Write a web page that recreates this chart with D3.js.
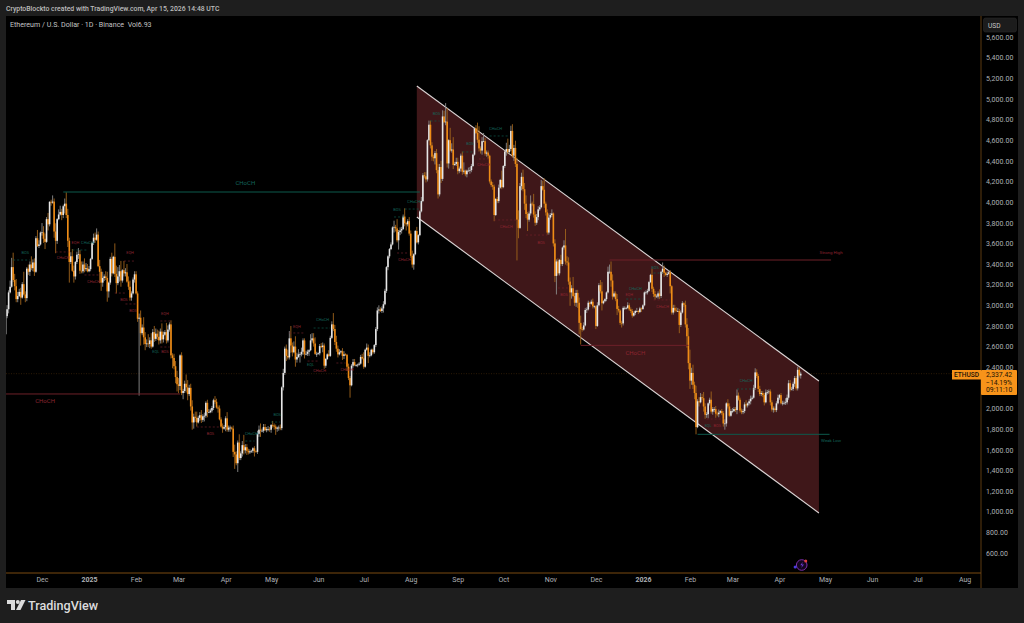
<!DOCTYPE html>
<html><head><meta charset="utf-8">
<script src="https://cdn.jsdelivr.net/npm/d3@7/dist/d3.min.js"></script>
<style>html,body{margin:0;padding:0;background:#1e1e1e;overflow:hidden}svg{display:block}text{font-family:Roboto,"Liberation Sans",sans-serif}</style>
</head><body><svg id="c" width="1024" height="623"></svg>
<script>
// ETH/USD daily, first candle 2024-11-07; one row per calendar month
const firstDay = "2024-11-07";
const firstOpen = 2720;
const closes = [
2895,2962,3125,3180,3370,3245,3185,3060,3090,3130,3075,3205,3105,3070,3355,3325,3395,3360,3415,3325,3650,3575,3590,3705,
3707,3645,3615,3835,3785,4003,3995,4005,3715,3625,3835,3880,3905,3875,3960,3985,3875,3625,3420,3475,3335,3280,3420,3490,3495,3335,3330,3395,3350,3360,3330,
3350,3450,3605,3655,3635,3685,3380,3325,3220,3265,3280,3265,3135,3220,3450,3310,3470,3305,3215,3280,3330,3240,3340,3310,3320,3230,3180,3075,3115,3250,3300,
3115,2870,2880,2730,2785,2690,2625,2630,2625,2660,2600,2740,2675,2725,2695,2660,2745,2670,2715,2740,2660,2765,2815,2515,2490,2410,2305,2235,
2218,2515,2150,2170,2240,2205,2140,2200,2020,1865,1920,1910,1865,1910,1935,1890,1925,1930,2055,1965,1965,1980,2005,2080,2065,2010,2000,1895,1825,1805,1820,
1905,1795,1815,1815,1805,1580,1555,1470,1670,1520,1565,1645,1595,1625,1590,1575,1585,1590,1615,1585,1580,1755,1795,1785,1785,1820,1790,1800,1800,1795,
1840,1835,1825,1805,1815,1815,1810,2205,2345,2580,2510,2495,2680,2610,2545,2600,2475,2500,2525,2525,2550,2660,2525,2530,2550,2565,2660,2680,2630,2530,2530,
2535,2605,2595,2610,2415,2480,2525,2510,2685,2815,2770,2645,2580,2525,2545,2555,2510,2525,2520,2405,2295,2225,2415,2450,2420,2420,2425,2435,2500,2485,
2405,2570,2590,2510,2515,2570,2545,2615,2770,2950,2960,2945,2970,3010,3140,3370,3475,3545,3590,3755,3760,3745,3630,3710,3725,3740,3860,3795,3785,3815,3695,
3480,3395,3495,3720,3610,3680,3910,4010,4260,4250,4220,4600,4750,4550,4440,4425,4475,4310,4075,4340,4225,4830,4775,4780,4375,4600,4500,4510,4360,4370,4390,
4300,4325,4450,4295,4305,4270,4305,4305,4310,4350,4460,4715,4670,4605,4520,4500,4590,4590,4470,4480,4450,4200,4165,4150,3875,4030,4010,4140,4215,4145,
4350,4490,4515,4485,4515,4690,4450,4525,4370,3830,3750,4155,4245,4125,3985,3885,3830,3890,3985,3980,3880,3800,3855,3930,3950,4155,4120,3985,3900,3705,3850,
3875,3890,3600,3285,3425,3310,3440,3400,3560,3580,3425,3415,3230,3125,3165,3090,3025,3120,3025,2830,2770,2765,2805,2955,2960,3025,3015,3035,2990,2990,
2800,3000,3195,3135,3020,3040,3060,3125,3325,3325,3240,3085,3115,3060,2965,2950,2830,2825,2975,2975,2975,3000,2960,2945,2900,2925,2945,2945,2935,2970,2965,
3000,3125,3125,3140,3225,3295,3160,3110,3085,3085,3115,3090,3325,3355,3315,3295,3305,3320,3185,2930,2975,2950,2945,2945,2810,2930,3020,3005,2815,2700,2440,
2270,2345,2230,2150,1820,2070,2060,2110,2100,2020,1940,1945,2050,2085,1970,1995,1995,1950,1945,1960,1975,1955,1855,1855,2050,2020,1930,1975,
1975,1995,1985,2125,2085,1980,1965,1975,2040,2030,2050,2070,2095,2105,2200,2350,2315,2190,2140,2150,2130,2060,2155,2160,2165,2060,1990,2000,1985,2050,2105,
2130,2050,2055,2055,2060,2105,2245,2185,2190,2240,2295,2195,2375,2320,2337.42
];
const wickUp = [
30,40,20,60,90,140,60,70,40,30,40,20,120,30,15,40,30,80,30,40,20,80,40,10,
90,60,50,20,60,5,20,60,30,80,10,50,60,30,15,50,110,60,30,40,70,50,10,30,60,40,90,30,60,50,40,
30,10,10,40,50,60,30,60,30,60,20,50,60,10,20,60,10,130,80,90,60,100,10,90,40,80,50,60,20,20,30,
30,20,40,70,30,100,50,40,90,30,70,30,60,50,40,60,30,80,30,20,90,40,20,40,20,40,50,60,
60,10,30,20,30,90,70,30,40,60,30,50,60,20,30,50,20,30,15,30,30,20,20,15,40,30,20,30,20,30,20,
20,60,20,20,10,30,70,30,20,80,20,40,100,30,30,20,20,10,10,20,10,30,40,60,20,30,30,20,30,20,
10,40,20,20,10,20,30,10,40,20,40,60,70,120,30,50,100,40,50,20,40,20,20,30,20,10,60,50,50,60,20,
10,20,30,30,20,10,10,40,20,30,110,40,60,30,30,10,30,30,10,10,30,20,15,30,30,10,10,15,20,30,
60,10,40,30,30,10,10,10,20,30,40,20,20,30,20,10,10,10,20,10,60,20,90,20,30,20,20,80,10,20,40,
30,50,10,10,40,10,10,40,20,30,40,10,40,40,30,20,20,40,60,30,60,60,55,180,130,10,120,60,120,20,40,
40,20,20,40,80,10,10,30,30,20,10,10,30,100,130,20,40,80,30,20,20,10,20,30,20,10,20,30,10,90,
10,10,60,100,40,50,65,30,70,60,90,30,40,70,60,80,20,20,80,20,100,30,30,30,20,60,50,110,20,30,40,
20,40,10,40,20,30,10,50,10,50,160,50,50,40,30,110,30,30,30,50,70,20,30,20,20,20,10,20,30,10,
10,30,20,50,90,10,10,10,50,70,100,60,20,20,50,30,10,20,15,15,10,30,20,20,20,15,10,30,10,15,10,
10,10,20,20,10,10,60,20,30,20,20,40,10,60,30,10,20,20,20,10,30,30,30,30,20,20,20,10,40,60,80,
130,50,80,30,70,20,40,40,30,60,30,20,10,20,80,20,20,30,20,30,10,20,20,40,10,40,30,20,
30,20,20,60,30,20,20,20,20,40,10,20,30,20,30,40,30,20,30,20,20,20,30,20,20,20,20,20,20,20,30,
10,20,20,20,40,30,30,30,20,20,20,20,30,20,20
];
const wickDown = [
10,20,40,10,10,20,40,30,30,10,70,10,10,40,30,30,40,20,30,40,10,10,20,10,
30,40,70,10,60,20,30,10,60,120,30,10,10,50,30,70,30,60,200,20,10,60,30,20,40,30,20,20,30,20,10,
10,20,10,20,30,10,10,110,80,40,30,20,100,60,20,30,10,30,100,20,50,60,20,30,30,10,30,30,30,10,30,
10,30,745,120,20,70,60,30,30,40,20,10,30,20,30,40,30,40,30,10,30,20,20,30,100,30,60,70,
70,40,20,60,20,50,60,20,40,70,60,40,40,10,30,30,20,50,20,50,10,10,20,20,20,10,40,10,10,40,10,
40,20,20,40,10,50,140,20,85,20,20,30,40,30,40,20,15,15,20,50,10,20,30,60,15,20,10,20,20,20,
30,20,30,60,30,30,20,20,30,20,50,20,20,70,40,10,70,30,10,80,20,30,40,10,20,40,10,20,30,10,30,
10,20,10,50,30,20,10,10,10,10,20,30,30,30,10,10,40,30,10,40,20,120,10,20,10,15,20,10,10,10,
20,10,10,70,15,10,20,15,20,20,30,10,20,40,10,20,30,20,10,10,50,30,20,90,30,30,10,30,60,20,20,
20,30,50,10,10,20,10,10,10,20,30,20,10,30,40,30,60,30,40,20,40,20,10,30,40,50,10,20,40,10,20,
30,20,30,30,20,20,30,10,30,20,10,10,10,30,30,30,40,10,20,30,30,20,20,30,60,10,20,20,10,20,
10,20,40,20,20,20,20,50,30,395,100,10,40,20,60,40,110,20,20,20,30,30,20,30,15,10,10,40,30,20,20,
20,20,30,60,180,20,20,20,20,20,30,30,30,130,60,10,30,40,50,110,150,20,10,10,30,10,30,10,20,20,
30,10,10,20,70,10,10,20,10,20,60,30,10,20,60,20,20,40,20,20,15,10,15,20,20,10,20,10,20,10,30,
10,10,20,20,10,10,30,30,30,10,20,30,20,20,40,10,20,10,70,20,20,20,10,10,80,20,10,20,30,110,60,
80,40,40,60,70,10,40,10,20,50,40,30,40,20,20,30,30,40,20,30,10,20,30,60,30,20,10,10,
20,10,20,40,10,20,20,20,20,20,20,20,30,10,10,20,20,30,20,20,20,30,10,20,20,30,20,30,20,20,10,
20,10,20,20,20,20,20,20,10,20,30,20,20,20,30
];
const priceTicks = [5600,5400,5200,5000,4800,4600,4400,4200,4000,3800,3600,3400,3200,3000,2800,2600,2400,2000,1800,1600,1400,1200,1000,800,600];
const monthTicks = [["2024-12-01","Dec"],["2025-01-01","2025"],["2025-02-01","Feb"],["2025-03-01","Mar"],["2025-04-01","Apr"],["2025-05-01","May"],["2025-06-01","Jun"],["2025-07-01","Jul"],["2025-08-01","Aug"],["2025-09-01","Sep"],["2025-10-01","Oct"],["2025-11-01","Nov"],["2025-12-01","Dec"],["2026-01-01","2026"],["2026-02-01","Feb"],["2026-03-01","Mar"],["2026-04-01","Apr"],["2026-05-01","May"],["2026-06-01","Jun"],["2026-07-01","Jul"],["2026-08-01","Aug"]];
const channelUpper = [["2025-08-05",5125],["2026-04-27",2267]];
const channelLower = [["2026-04-27",988],["2025-08-05",3856]];
// level: [startDate, endDate, price, kind]
const mainLevels = [
["2024-12-15","2025-08-07",4098,"g"],
["2024-11-07","2025-03-02",2141,"r"],
["2025-12-10","2026-05-05",3439,"r"],
["2025-11-21","2026-01-31",2612,"r"],
["2026-02-06","2026-05-04",1750,"g"]
];
// dashed swing: [startDate, endDate, price, kind]
const swingLevels = [
["2024-11-12","2024-11-23",3439,"g"],["2024-12-21","2024-12-31",3536,"g"],["2024-12-10","2024-12-19",3517,"r"],["2024-12-29","2025-01-08",3294,"r"],["2025-01-24","2025-01-31",3429,"r"],
["2025-01-18","2025-01-25",3119,"r"],["2025-01-25","2025-02-02",3013,"r"],["2025-02-17","2025-02-25",2848,"r"],["2025-02-17","2025-02-23",2596,"r"],["2025-03-13","2025-03-28",1821,"r"],
["2025-04-14","2025-04-20",1685,"g"],["2025-05-01","2025-05-07",1869,"g"],["2025-05-13","2025-05-23",2732,"r"],["2025-05-29","2025-06-09",2780,"g"],["2025-05-25","2025-06-01",2460,"r"],["2025-06-13","2025-06-19",2441,"r"],
["2025-08-14","2025-08-20",4786,"g"],["2025-07-28","2025-08-07",3933,"g"],["2025-07-21","2025-07-28",3856,"g"],["2025-07-23","2025-07-31",3507,"r"],["2025-09-04","2025-09-11",4486,"g"],["2025-09-22","2025-10-05",4641,"g"],["2025-09-15","2025-09-22",4418,"r"],["2025-09-25","2025-10-10",3827,"r"],["2025-10-16","2025-10-30",3681,"r"],
["2025-11-06","2025-11-13",3168,"r"],["2025-12-21","2026-01-01",3061,"g"],["2026-01-08","2026-01-19",3052,"r"],["2026-01-08","2026-01-14",3313,"g"],["2026-03-04","2026-03-15",2189,"g"],["2026-02-12","2026-02-23",1898,"r"]
];
// labels: [date, price, text, kind]
const swingLabels = [
["2024-11-20",3507,"BOS","g"],["2024-12-23",3607,"EQH","r"],["2024-12-31",3607,"CHoCH","g"],["2024-12-15",3455,"CHoCH","r"],["2025-01-04",3223,"CHoCH","r"],["2025-01-28",3507,"EQH","r"],
["2025-01-24",3054,"BOS","r"],["2025-01-30",2948,"BOS","r"],["2025-02-20",2919,"EQH","r"],["2025-02-14",2545,"EQL","g"],["2025-02-20",2545,"BOS","r"],["2025-03-22",1756,"BOS","r"],
["2025-04-18",1756,"CHoCH","g"],["2025-05-05",1940,"BOS","g"],["2025-05-18",2793,"EQH","r"],["2025-06-04",2858,"CHoCH","g"],["2025-05-27",2425,"EQL","g"],["2025-06-02",2368,"CHoCH","r"],["2025-06-20",2375,"CHoCH","r"],
["2025-08-18",4854,"BOS","g"],["2025-08-03",4004,"CHoCH","g"],["2025-07-23",3924,"BOS","g"],["2025-07-28",3439,"CHoCH","r"],["2025-09-09",4560,"BOS","g"],["2025-09-26",4712,"CHoCH","g"],["2025-09-18",4356,"CHoCH","r"],["2025-10-03",3759,"CHoCH","r"],["2025-10-26",3604,"BOS","r"],
["2025-11-10",3100,"BOS","r"],["2026-01-09",3359,"BOS","g"],["2025-12-27",3155,"CHoCH","g"],["2025-12-23",3100,"EQH","r"],["2026-01-14",2984,"CHoCH","r"],["2026-03-10",2267,"CHoCH","g"],["2026-02-13",1831,"EQL","g"],["2026-02-19",1831,"BOS","r"]
];
const mainLabels = [
["2025-04-14",4185,"CHoCH","g",6],["2024-12-03",2073,"CHoCH","r",6],["2026-05-05",3507,"Strong High","r",4.4],["2025-12-27",2538,"CHoCH","r",6],["2026-05-05",1685,"Weak Low","g",4.4]
];
const headerTitle = "CryptoBlockto created with TradingView.com, Apr 15, 2026 14:48 UTC";
const symbolTitle = "Ethereum / U.S. Dollar · 1D · Binance  Vol6.93";

const colUp="#e6e6e6", colDown="#ef8c16", green="#0d5a4c", red="#6e2029", greenText="#13665a", redText="#8e2530", tickCol="#aeb0b5";
const parse=d=>new Date(d+"T00:00:00Z");
const x=d3.scaleUtc().domain([parse("2024-12-01"),parse("2026-05-01")]).range([42,825]);
const y=d3.scaleLinear().domain([600,5600]).range([553,37]);
const svg=d3.select("#c");
const L=6,R=981,T=16,B=573;
svg.append("rect").attr("width",1024).attr("height",623).attr("fill","#1e1e1e");
svg.append("rect").attr("x",L).attr("y",T).attr("width",1018-L).attr("height",588-T).attr("fill","#000");
svg.append("defs").append("clipPath").attr("id","plot").append("rect").attr("x",L).attr("y",T).attr("width",R-L).attr("height",B-T);
const plot=svg.append("g").attr("clip-path","url(#plot)");

// last price line
plot.append("line").attr("x1",L).attr("x2",R).attr("y1",y(2337.42)).attr("y2",y(2337.42)).attr("stroke","#4a2c0a").attr("stroke-width",.6).attr("stroke-dasharray","1,1.5");

// channel
const pt=d=>[x(parse(d[0])),y(d[1])];
plot.append("path").attr("d",d3.line()([...channelUpper,...channelLower].map(pt))+"Z").attr("fill","#3f1719");
[channelUpper,channelLower].forEach(s=>plot.append("path").attr("d",d3.line()(s.map(pt))).attr("stroke","#dcd6d6").attr("stroke-width",1.1).attr("fill","none"));

// candles
const candles=closes.map((c,i)=>{const o=i?closes[i-1]:firstOpen;return {d:d3.utcDay.offset(parse(firstDay),i),o,c,h:Math.max(o,c)+wickUp[i],l:Math.min(o,c)-wickDown[i]};});
const g=plot.append("g");
g.selectAll("line").data(candles).join("line")
 .attr("x1",d=>x(d.d)).attr("x2",d=>x(d.d)).attr("y1",d=>y(d.h)).attr("y2",d=>y(d.l))
 .attr("stroke",d=>d.c>=d.o?"#8c8c8c":"#a0641c").attr("stroke-width",.9);
g.selectAll("rect").data(candles).join("rect")
 .attr("x",d=>x(d.d)-.8).attr("width",1.6)
 .attr("y",d=>y(Math.max(d.o,d.c))).attr("height",d=>Math.max(.7,Math.abs(y(d.o)-y(d.c))))
 .attr("fill",d=>d.c>=d.o?colUp:colDown);

// levels
plot.selectAll(".lvl").data(mainLevels).join("line").attr("class","lvl")
 .attr("x1",d=>x(parse(d[0]))).attr("x2",d=>x(parse(d[1]))).attr("y1",d=>y(d[2])).attr("y2",d=>y(d[2]))
 .attr("stroke",d=>d[3]=="g"?green:red).attr("stroke-width",1);
plot.selectAll(".sw").data(swingLevels).join("line").attr("class","sw")
 .attr("x1",d=>x(parse(d[0]))).attr("x2",d=>x(parse(d[1]))).attr("y1",d=>y(d[2])).attr("y2",d=>y(d[2]))
 .attr("stroke",d=>d[3]=="g"?green:red).attr("stroke-width",.7).attr("stroke-dasharray","2,2");
plot.selectAll(".lb").data(swingLabels).join("text").attr("class","lb")
 .attr("x",d=>x(parse(d[0]))).attr("y",d=>y(d[1])).attr("text-anchor","middle").attr("dominant-baseline","middle")
 .attr("font-size",3.9).attr("fill",d=>d[3]=="g"?greenText:redText).text(d=>d[2]);
plot.selectAll(".ml").data(mainLabels).join("text").attr("class","ml")
 .attr("x",d=>x(parse(d[0]))).attr("y",d=>y(d[1])).attr("text-anchor","middle").attr("dominant-baseline","middle")
 .attr("font-size",d=>d[4]).attr("fill",d=>d[3]=="g"?greenText:redText).text(d=>d[2]);

// axes
svg.append("line").attr("x1",R).attr("x2",R).attr("y1",T).attr("y2",588).attr("stroke","#5c3a10").attr("stroke-width",1);
svg.append("line").attr("x1",L).attr("x2",R).attr("y1",B).attr("y2",B).attr("stroke","#7a4a10").attr("stroke-width",1);
const fmt=d3.format(",.2f");
const ay=svg.append("g").attr("transform",`translate(${R},0)`).call(d3.axisRight(y).tickValues(priceTicks).tickSize(0).tickPadding(5).tickFormat(fmt));
ay.select(".domain").remove();
ay.selectAll("text").attr("font-size",7).attr("fill",tickCol).attr("font-family","Roboto,sans-serif").attr("letter-spacing",.1);
const tickDates=monthTicks.map(m=>parse(m[0]));
const ax=svg.append("g").attr("transform",`translate(0,${B})`).call(d3.axisBottom(x).tickValues(tickDates).tickSize(0).tickPadding(4).tickFormat((d,i)=>monthTicks[i][1]));
ax.select(".domain").remove();
ax.selectAll("text").attr("font-size",7).attr("fill",tickCol).attr("font-family","Roboto,sans-serif").attr("font-weight",(d,i)=>/^\d/.test(monthTicks[i][1])?700:400);

// USD box
svg.append("rect").attr("x",983.5).attr("y",18).attr("width",33).attr("height",14).attr("rx",2).attr("fill","#1c1c1c").attr("stroke","#2a2a2a").attr("stroke-width",.6);
svg.append("text").attr("x",988).attr("y",27.5).attr("font-size",6.6).attr("fill","#c8c8c8").text("USD");

// price tag
svg.append("rect").attr("x",952).attr("y",370).attr("width",29).attr("height",9.5).attr("fill","#f7931a");
svg.append("rect").attr("x",981).attr("y",370).attr("width",36).attr("height",25).attr("rx",1).attr("fill","#f7931a");
svg.append("text").attr("x",966.5).attr("y",377.3).attr("text-anchor","middle").attr("font-size",6.6).attr("font-weight",500).attr("fill","#1a1206").text("ETHUSD");
[["2,337.42",377.3],["−14.19%",384.7],["09:11:10",392.2]].forEach(t=>svg.append("text").attr("x",986).attr("y",t[1]).attr("font-size",6.8).attr("fill","#1a1206").text(t[0]));

// titles
svg.append("text").attr("x",6).attr("y",11).attr("font-size",6.85).attr("font-weight",500).attr("fill","#bdbdbd").text(headerTitle);
svg.append("text").attr("x",10).attr("y",26.5).attr("font-size",7.1).attr("fill","#c4c4c4").attr("xml:space","preserve").text(symbolTitle);

// small badge
const bx=x(parse("2026-04-15")), by=565;
svg.append("circle").attr("cx",bx+1).attr("cy",by).attr("r",5.3).attr("fill","#14061e").attr("stroke","#7b2fa8").attr("stroke-width",1);
svg.append("path").attr("d",`M${bx+2},${by-3}l-2.5,3.2h2l-1,2.8l2.8,-3.6h-2z`).attr("fill","#6c3bd1");
svg.append("circle").attr("cx",bx+5).attr("cy",by-4).attr("r",1.5).attr("fill","#e0403a");
svg.append("circle").attr("cx",bx-5.5).attr("cy",by+2).attr("r",1.6).attr("fill","#4a3be0");

// logo
const lg=svg.append("g").attr("transform","translate(7,600)").attr("fill","#dcdcdc");
lg.append("path").attr("d","M0,0H8V10H4V4H0Z");
lg.append("circle").attr("cx",10.8).attr("cy",2).attr("r",2);
lg.append("path").attr("d","M14,0H18.5L13.5,10H9Z");
svg.append("text").attr("x",28).attr("y",610).attr("font-size",12.6).attr("font-weight",500).attr("fill","#dcdcdc").text("TradingView");
</script></body></html>
